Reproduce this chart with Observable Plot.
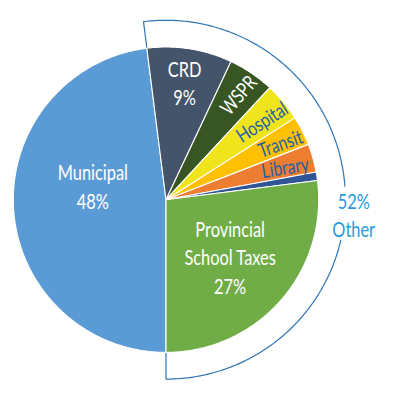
<!DOCTYPE html>
<html>
<head>
<meta charset="utf-8">
<script src="https://cdn.jsdelivr.net/npm/d3@7"></script>
<script src="https://cdn.jsdelivr.net/npm/@observablehq/plot@0.6"></script>
<style>
  html, body { margin: 0; padding: 0; background: #fff; }
</style>
</head>
<body>
<div id="chart"></div>
<script>
// ---- data ----
const categories = ["Municipal", "CRD", "WSPR", "Hospital", "Transit", "Library", "Other levy", "Provincial School Taxes"];
const shares = [48, 9, 4.9, 4.1, 3.1, 3.0, 0.9, 27];
const sliceLabels = ["Municipal\n48%", "CRD\n9%", "WSPR", "Hospital", "Transit", "Library", "", "Provincial\nSchool Taxes\n27%"];
const otherGroupShare = 52;
const otherGroupLabel = "52%\nOther";

// ---- styles / layout ----
const colors = ["#5b9bd5", "#44546a", "#375623", "#f0e51c", "#ffc000", "#ed7d31", "#2f5597", "#70ad47"];
const W = 395, H = 397;
const cx = 165.5, cy = 199.2, R0 = 152.7;   // pie centre & radius in pixels
const bracketR = 1.175;                      // outer radius of "Other" bracket (pie radii)
const FONT = "Lato, 'Open Sans', sans-serif";
const CONDENSE = 0.78;                       // horizontal squeeze to mimic a condensed face
const labelLayout = {
  "Municipal": {r: 0.48, dy: -19, rot: false, color: "white", size: 21},
  "CRD": {r: 0.78, dy: 0, rot: false, color: "white", size: 21},
  "WSPR": {r: 0.835, dy: 0, rot: true, color: "white", size: 20},
  "Hospital": {r: 0.81, dy: 0, rot: true, color: "#1f5fa6", size: 20},
  "Transit": {r: 0.835, dy: 0, rot: true, color: "#1f5fa6", size: 20},
  "Library": {r: 0.81, dy: 0, rot: true, color: "#1f5fa6", size: 20},
  "Provincial School Taxes": {r: 0.56, dy: 0, rot: false, color: "white", size: 21}
};

const rows = categories.map((c, i) => ({cat: c, share: shares[i], label: sliceLabels[i]}));
const arcs = d3.pie().sort(null).value(d => d.share).startAngle(Math.PI).endAngle(3 * Math.PI)(rows);
const polar = (a, r) => ({x: r * Math.sin(a), y: r * Math.cos(a)});

// slice polygons
const slicePts = [];
for (const a of arcs) {
  const n = Math.max(2, Math.ceil((a.endAngle - a.startAngle) / 0.01) + 1);
  slicePts.push({cat: a.data.cat, ...polar(0, 0)});
  for (let k = 0; k < n; k++) {
    const t = a.startAngle + (a.endAngle - a.startAngle) * k / (n - 1);
    slicePts.push({cat: a.data.cat, ...polar(t, 1)});
  }
  slicePts.push({cat: a.data.cat, ...polar(0, 0)});
}

// "Other" bracket: spans all slices except Municipal
const otherArcs = arcs.filter(a => a.data.cat !== "Municipal");
const gStart = d3.min(otherArcs, a => a.startAngle);
const gEnd = d3.max(otherArcs, a => a.endAngle);
const gMid = (gStart + gEnd) / 2;
const labelAngle = gMid + 8 * Math.PI / 180;
const gapHalf = 8.7 * Math.PI / 180;
const bracketPts = [];
bracketPts.push({seg: 0, ...polar(gStart, 1)});
for (let t = gStart; t <= labelAngle - gapHalf; t += 0.01) bracketPts.push({seg: 0, ...polar(t, bracketR)});
bracketPts.push({seg: 0, ...polar(labelAngle - gapHalf, bracketR)});
for (let t = labelAngle + gapHalf; t <= gEnd; t += 0.01) bracketPts.push({seg: 1, ...polar(t, bracketR)});
bracketPts.push({seg: 1, ...polar(gEnd, bracketR)});
bracketPts.push({seg: 1, ...polar(gEnd, 1)});

// labels
const labelRows = arcs.filter(a => labelLayout[a.data.cat]).map(a => {
  const L = labelLayout[a.data.cat];
  const mid = (a.startAngle + a.endAngle) / 2;
  const p = polar(mid, L.r);
  return {text: a.data.label, x: p.x, y: p.y, dy: L.dy, color: L.color, size: L.size,
          rotate: L.rot ? mid * 180 / Math.PI - 90 + 7 : 0};
});
const otherP = polar(labelAngle, 1.233);

const textMarks = labelRows.map(d => Plot.text([d], {
  x: "x", y: "y", text: "text", dy: d.dy, rotate: d.rotate,
  fill: d.color, fontSize: d.size, fontFamily: FONT, lineHeight: 1.35
}));

const plot = Plot.plot({
  width: W, height: H,
  margin: 0,
  x: {domain: [-cx / R0, (W - cx) / R0], axis: null},
  y: {domain: [(cy - H) / R0, cy / R0], axis: null},
  color: {type: "ordinal", domain: categories, range: colors},
  marks: [
    Plot.line(bracketPts, {x: "x", y: "y", z: "seg", stroke: "#2e75b6", strokeWidth: 1.2, curve: "linear"}),
    Plot.line(slicePts, {x: "x", y: "y", z: "cat", fill: "cat", stroke: "white", strokeWidth: 1.1, strokeLinejoin: "round", curve: "linear"}),
    ...textMarks,
    Plot.text([{x: otherP.x, y: otherP.y, text: otherGroupLabel, share: otherGroupShare}], {
      x: "x", y: "y", text: "text", fill: "#2a9bd8", fontSize: 21, fontFamily: FONT, lineHeight: 1.3
    })
  ]
});
// squeeze text horizontally (along its own baseline) to imitate the condensed face
plot.querySelectorAll("text").forEach(t => {
  t.setAttribute("transform", ((t.getAttribute("transform") || "") + ` scale(${CONDENSE},1)`).trim());
});
document.getElementById("chart").appendChild(plot);
</script>
</body>
</html>
